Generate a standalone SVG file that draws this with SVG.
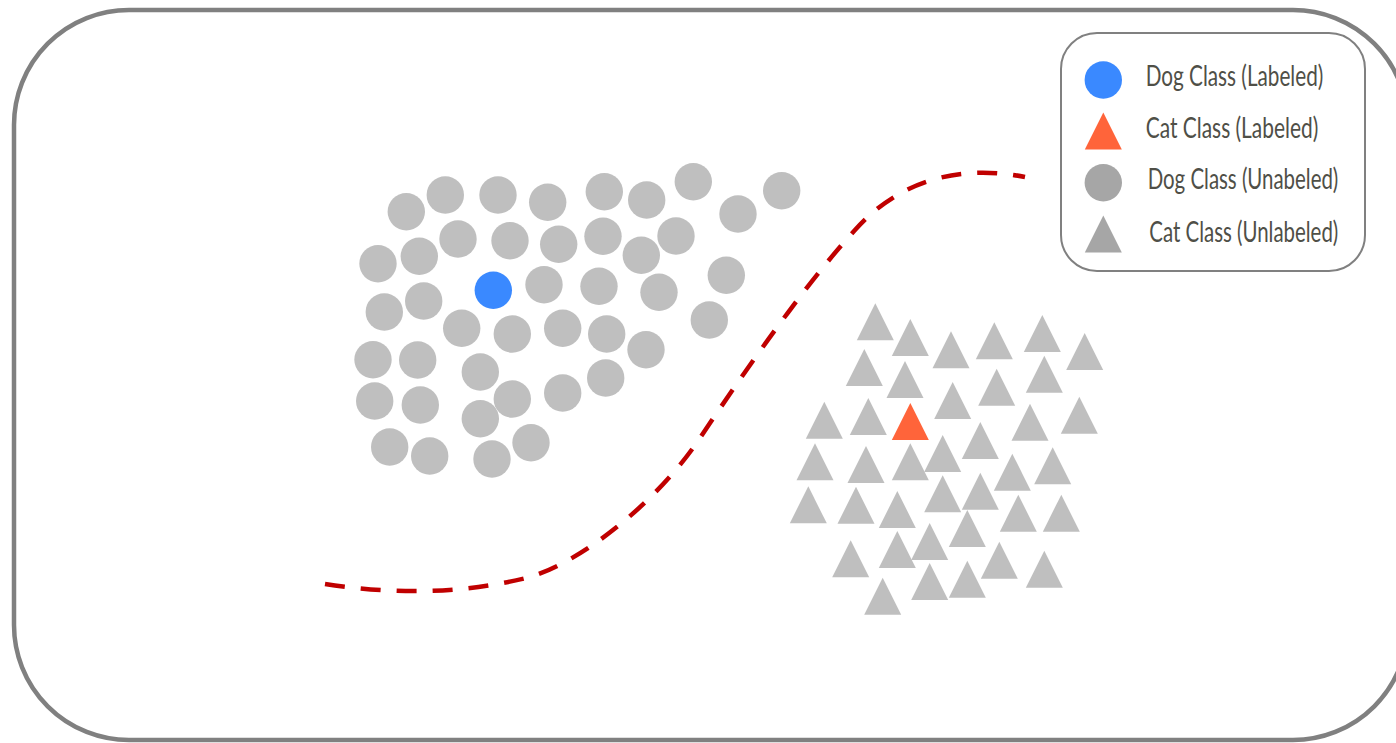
<svg xmlns="http://www.w3.org/2000/svg" xmlns:xlink="http://www.w3.org/1999/xlink" width="1396" height="743" viewBox="0 0 1396 743">
  <style>
    .frame { fill: #ffffff; stroke: #808080; stroke-width: 4.5; }
    .legend-box { fill: #ffffff; stroke: #808080; stroke-width: 2; }
    .unl { fill: #BFBFBF; }
    .dog-lab { fill: #3A89FF; }
    .cat-lab { fill: #FF643A; }
    .leg-unl { fill: #A6A6A6; }
    .boundary { fill: none; stroke: #C00000; stroke-width: 4.5; stroke-dasharray: 20 16; }
    .leg-text { font-family: Lato, "Liberation Sans", sans-serif; font-size: 29px; fill: #4F4F47; }
  </style>
  <defs>
    <circle id="dot" cx="0" cy="0" r="18.7"/>
    <path id="tri" d="M0,0 L18.5,37 L-18.5,37 Z"/>
  </defs>

  <rect class="frame" x="14" y="10" width="1394" height="730" rx="115" ry="115"/>

  <g id="dog-cluster">
    <g class="unl">
      <use href="#dot" x="406.3" y="211.7"/>
      <use href="#dot" x="445.3" y="195"/>
      <use href="#dot" x="498" y="195"/>
      <use href="#dot" x="547.7" y="202.3"/>
      <use href="#dot" x="604.3" y="191.7"/>
      <use href="#dot" x="646.7" y="200"/>
      <use href="#dot" x="693.3" y="181.7"/>
      <use href="#dot" x="781.7" y="190.7"/>
      <use href="#dot" x="738" y="214"/>
      <use href="#dot" x="378" y="263.7"/>
      <use href="#dot" x="419.3" y="256.3"/>
      <use href="#dot" x="458" y="239"/>
      <use href="#dot" x="510" y="240.7"/>
      <use href="#dot" x="558.7" y="244.3"/>
      <use href="#dot" x="603" y="236.3"/>
      <use href="#dot" x="641.3" y="255.3"/>
      <use href="#dot" x="676" y="236"/>
      <use href="#dot" x="544" y="284.7"/>
      <use href="#dot" x="599" y="286.3"/>
      <use href="#dot" x="659" y="292.3"/>
      <use href="#dot" x="726.3" y="275.3"/>
      <use href="#dot" x="384.3" y="312"/>
      <use href="#dot" x="423.7" y="301"/>
      <use href="#dot" x="461.7" y="328.3"/>
      <use href="#dot" x="512.3" y="334"/>
      <use href="#dot" x="562.7" y="328.3"/>
      <use href="#dot" x="606.7" y="334"/>
      <use href="#dot" x="646" y="349.7"/>
      <use href="#dot" x="709.3" y="320"/>
      <use href="#dot" x="373" y="359.7"/>
      <use href="#dot" x="417.7" y="360"/>
      <use href="#dot" x="480.3" y="372"/>
      <use href="#dot" x="374.7" y="401"/>
      <use href="#dot" x="420.3" y="405"/>
      <use href="#dot" x="562.7" y="393"/>
      <use href="#dot" x="605.7" y="378"/>
      <use href="#dot" x="480.3" y="418.7"/>
      <use href="#dot" x="512.3" y="399"/>
      <use href="#dot" x="389.7" y="447"/>
      <use href="#dot" x="429.7" y="456"/>
      <use href="#dot" x="492" y="459"/>
      <use href="#dot" x="531" y="442.7"/>
    </g>
    <use id="dog-labeled" class="dog-lab" href="#dot" x="493.3" y="290.3"/>
  </g>

  <g id="cat-cluster">
    <g class="unl">
      <use href="#tri" x="875.3" y="303.3"/>
      <use href="#tri" x="910.3" y="319"/>
      <use href="#tri" x="951" y="331.3"/>
      <use href="#tri" x="994.3" y="322.3"/>
      <use href="#tri" x="1042.3" y="315"/>
      <use href="#tri" x="1084.7" y="333"/>
      <use href="#tri" x="864.3" y="349"/>
      <use href="#tri" x="905" y="361"/>
      <use href="#tri" x="996.7" y="368.7"/>
      <use href="#tri" x="1044.3" y="355.7"/>
      <use href="#tri" x="952.7" y="382"/>
      <use href="#tri" x="824.3" y="401.7"/>
      <use href="#tri" x="868.3" y="398"/>
      <use href="#tri" x="1030" y="403.7"/>
      <use href="#tri" x="1079.3" y="396.7"/>
      <use href="#tri" x="980.3" y="422"/>
      <use href="#tri" x="942.7" y="435"/>
      <use href="#tri" x="815" y="443.3"/>
      <use href="#tri" x="866" y="446"/>
      <use href="#tri" x="910.3" y="443.3"/>
      <use href="#tri" x="1012.3" y="453.7"/>
      <use href="#tri" x="1052.7" y="447.3"/>
      <use href="#tri" x="808.3" y="486.3"/>
      <use href="#tri" x="856" y="486.7"/>
      <use href="#tri" x="897.3" y="491"/>
      <use href="#tri" x="942.7" y="475.3"/>
      <use href="#tri" x="980.3" y="472.7"/>
      <use href="#tri" x="1018.3" y="494.7"/>
      <use href="#tri" x="1061.3" y="494.7"/>
      <use href="#tri" x="967.3" y="510"/>
      <use href="#tri" x="929.7" y="523"/>
      <use href="#tri" x="897.3" y="531"/>
      <use href="#tri" x="850.7" y="540.3"/>
      <use href="#tri" x="999.3" y="541.7"/>
      <use href="#tri" x="1044.3" y="550.7"/>
      <use href="#tri" x="929.7" y="563"/>
      <use href="#tri" x="967.3" y="560.7"/>
      <use href="#tri" x="882.7" y="577.7"/>
    </g>
    <use id="cat-labeled" class="cat-lab" href="#tri" x="910.3" y="403"/>
  </g>

  <g id="connectors">
    <path id="decision-boundary" class="boundary" d="M325,584 C390,594 460,595 530,577 C580,562 655,505 700,438 C730,393 800,290 855,230 C885,196 940,160 1025,177"/>
  </g>

  <g id="legend">
    <rect class="legend-box" x="1061" y="33" width="304" height="238" rx="36" ry="36"/>
    <use class="dog-lab" href="#dot" x="1103.3" y="80"/>
    <use class="cat-lab" href="#tri" x="1103.3" y="112.5"/>
    <use class="leg-unl" href="#dot" x="1103.3" y="182.7"/>
    <use class="leg-unl" href="#tri" x="1103.3" y="215.5"/>
    <text class="leg-text" transform="translate(1145.7,86) scale(0.72,1)" x="0" y="0" textLength="246.7" lengthAdjust="spacingAndGlyphs">Dog Class (Labeled)</text>
    <text class="leg-text" transform="translate(1145.7,138.3) scale(0.72,1)" x="0" y="0" textLength="239.7" lengthAdjust="spacingAndGlyphs">Cat Class (Labeled)</text>
    <text class="leg-text" transform="translate(1147.7,189.3) scale(0.72,1)" x="0" y="0" textLength="264.7" lengthAdjust="spacingAndGlyphs">Dog Class (Unabeled)</text>
    <text class="leg-text" transform="translate(1149.3,241.7) scale(0.72,1)" x="0" y="0" textLength="262.5" lengthAdjust="spacingAndGlyphs">Cat Class (Unlabeled)</text>
  </g>
</svg>
